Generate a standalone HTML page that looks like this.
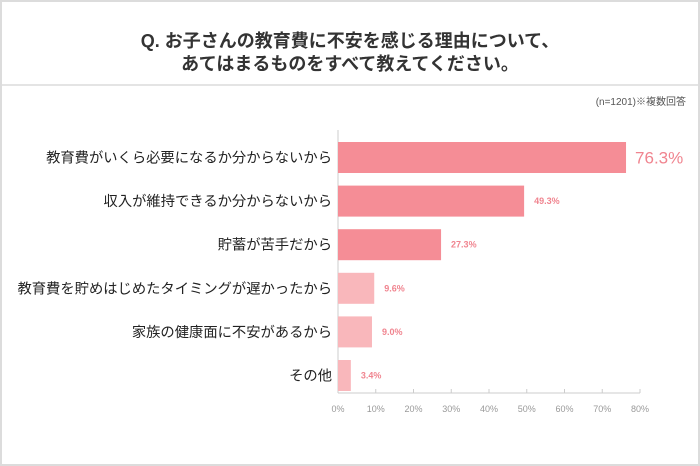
<!DOCTYPE html>
<html><head><meta charset="utf-8"><style>
body{margin:0;background:#fff;}
svg{display:block;font-family:"Liberation Sans","Noto Sans CJK JP",sans-serif;}
</style></head><body>
<svg id="chart" width="700" height="466" viewBox="0 0 700 466">
<rect x="1" y="1" width="698" height="464" fill="#fff" stroke="#dcdcdc" stroke-width="2"/>
<line x1="2" y1="85" x2="698" y2="85" stroke="#dcdcdc" stroke-width="1.5"/>
<text x="350" y="47" text-anchor="middle" font-size="18" font-weight="bold" fill="#333">Q. お子さんの教育費に不安を感じる理由について、</text>
<text x="350" y="70" text-anchor="middle" font-size="18" font-weight="bold" fill="#333">あてはまるものをすべて教えてください。</text>
<text x="686" y="105" text-anchor="end" font-size="10" fill="#555">(n=1201)※複数回答</text>
<g id="plot"></g>
</svg>
<script>
const categories=["教育費がいくら必要になるか分からないから","収入が維持できるか分からないから","貯蓄が苦手だから","教育費を貯めはじめたタイミングが遅かったから","家族の健康面に不安があるから","その他"];
const values=[76.3,49.3,27.3,9.6,9.0,3.4];
const valueLabels=["76.3%","49.3%","27.3%","9.6%","9.0%","3.4%"];
const tickValues=[0,10,20,30,40,50,60,70,80];
const tickLabels=["0%","10%","20%","30%","40%","50%","60%","70%","80%"];

const NS="http://www.w3.org/2000/svg";
const g=document.getElementById('plot');
const x0=338,x1=640,xmax=80,top0=142,step=43.6,bh=31,base=393;
const xs=v=>x0+(x1-x0)*v/xmax;
const ys=i=>top0+i*step;
function mk(t,a){const e=document.createElementNS(NS,t);for(const k in a)e.setAttribute(k,a[k]);g.appendChild(e);return e;}
const ax=mk('line',{x1:x0,y1:130,x2:x0,y2:base,stroke:'#ccc','stroke-width':1});


const bx=mk('line',{x1:x0,y1:base,x2:x1,y2:base,stroke:'#ccc','stroke-width':1});


tickValues.forEach((v,i)=>{
  const t=mk('line',{x1:xs(v),y1:base-4,x2:xs(v),y2:base,stroke:'#ccc'});
  
  
  const l=mk('text',{x:xs(v),y:base+19,'text-anchor':'middle','font-size':9,fill:'#999'});
  l.textContent=tickLabels[i];
  
  
});
categories.forEach((c,i)=>{
  const y=ys(i);
  const col=i<3?'#f58d96':'#f9b7bb';
  const r=mk('rect',{x:x0,y:y,width:xs(values[i])-x0,height:bh,fill:col});
  
  
  const lab=mk('text',{x:332,y:y+bh/2+5,'text-anchor':'end','font-size':14.3,fill:'#222'});
  lab.textContent=c;
  
  
  const big=i===0;
  const vl=mk('text',{x:xs(values[i])+(big?9:10),y:y+bh/2+(big?6:3),'font-size':big?17:9,'font-weight':big?'normal':'bold',fill:'#f0848f'});
  vl.textContent=valueLabels[i];
  
  
});
</script>
</body></html>
